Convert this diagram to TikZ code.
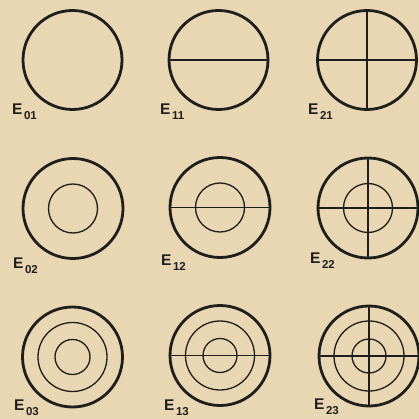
\documentclass[tikz,border=0pt]{standalone}
\usepackage{fontspec}
\setmainfont{Liberation Sans}
\definecolor{paper}{HTML}{E9D6B2}
\definecolor{ink}{HTML}{1E1F1C}
\newcommand{\elab}[1]{\bfseries E\hspace{1.5pt}\raisebox{-5pt}{\fontsize{11.5}{11.5}\selectfont #1}}
\begin{document}
\begin{tikzpicture}[x=1pt,y=-1pt,
  outer/.style={draw=ink,line width=2.8pt},
  inner/.style={draw=ink,line width=1.3pt},
  cross/.style={draw=ink,line width=1.3pt},
  lab/.style={anchor=base west,inner sep=0pt,text=ink,font=\fontsize{15.5}{15.5}\selectfont}]
\fill[paper] (0,0) rectangle (419,419);
\useasboundingbox (0,0) rectangle (419,419);
% Row 1
\draw[outer] (72.5,60) circle (49.5);
\node[lab] (l01) at (12,115) {\elab{01}};
\draw[cross] (169,60) -- (268,60);
\draw[outer] (218.5,60) circle (49.5);
\node[lab] (l11) at (160,115) {\elab{11}};
\draw[cross] (318,60) -- (416,60);
\draw[cross] (367,11) -- (367,109);
\draw[outer] (367,60) circle (49.5);
\node[lab] (l21) at (308,115) {\elab{21}};
% Row 2
\draw[outer] (73,208.5) circle (50);
\draw[inner] (73,208.5) circle (24.5);
\node[lab] (l02) at (13,268) {\elab{02}};
\draw[cross] (170,207.5) -- (270,207.5);
\draw[outer] (220,207.5) circle (50);
\draw[inner] (220,207.5) circle (24.5);
\node[lab] (l12) at (161,265) {\elab{12}};
\draw[cross] (318,208) -- (418,208);
\draw[cross] (368,158) -- (368,258);
\draw[outer] (368,208) circle (50);
\draw[inner] (368,208) circle (24.5);
\node[lab] (l22) at (310,263) {\elab{22}};
% Row 3
\draw[outer] (72.5,357) circle (50);
\draw[inner] (72.5,357) circle (34.5);
\draw[inner] (72.5,357) circle (17.5);
\node[lab] (l03) at (14,410) {\elab{03}};
\draw[cross] (170,355.5) -- (270,355.5);
\draw[outer] (220,355.5) circle (50);
\draw[inner] (220,355.5) circle (34.5);
\draw[inner] (220,355.5) circle (17);
\node[lab] (l13) at (164,410) {\elab{13}};
\draw[cross] (319,356) -- (419,356);
\draw[cross] (369,306) -- (369,406);
\draw[outer] (369,356) circle (50);
\draw[inner] (369,356) circle (35);
\draw[inner] (369,356) circle (17);
\node[lab] (l23) at (314,409) {\elab{23}};
\end{tikzpicture}
\end{document}
